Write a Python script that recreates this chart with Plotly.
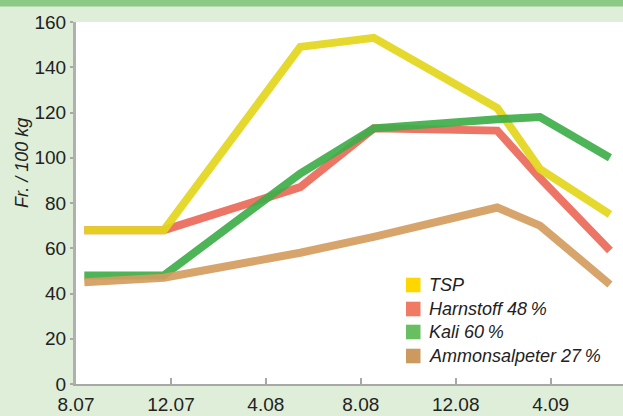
import plotly.graph_objects as go

# x positions in months after Aug 2007
months = [0.35, 3.7, 9.45, 12.55, 17.75, 19.55, 22.5]
tsp = [68, 68, 149, 153, 122, 95, 75]
harnstoff = [68, 68, 87, 113, 112, 91, 59]
kali = [48, 48, 93, 113, 117, 118, 100]
ammonsalpeter = [45, 47, 58, 65, 78, 70, 44]

series_names = ["TSP", "Harnstoff 48\u2009%", "Kali 60\u2009%", "Ammonsalpeter 27\u2009%"]
line_colors = ["#e4d61c", "#ec6a5a", "#3fae4a", "#d49e60"]
legend_colors = ["#ffd700", "#f07a64", "#68bf62", "#cc9a5e"]

tick_vals = [0, 4, 8, 12, 16, 20]
tick_text = ["8.07", "12.07", "4.08", "8.08", "12.08", "4.09"]
y_ticks = [0, 20, 40, 60, 80, 100, 120, 140, 160]

W, H = 623, 416
ML, MR, MT, MB = 76, 0, 22, 32
plot_w = W - ML - MR
plot_h = H - MT - MB


def px_x(px):
    return (px - ML) / plot_w


def px_y(py):
    return (H - MB - py) / plot_h


fig = go.Figure()

values = [tsp, harnstoff, kali, ammonsalpeter]
draw_order = [1, 0, 2, 3]
for i in draw_order:
    fig.add_trace(go.Scatter(
        x=months, y=values[i], mode="lines", name=series_names[i],
        line=dict(color=line_colors[i], width=8),
        opacity=0.92, showlegend=False, hoverinfo="skip"))

# legend built from swatches + text (layout positions)
legend_rows_y = [285, 309, 332, 356]
for i in range(4):
    cy = legend_rows_y[i]
    fig.add_shape(type="rect", xref="paper", yref="paper",
                  x0=px_x(406), x1=px_x(420.5),
                  y0=px_y(cy + 7.3), y1=px_y(cy - 7.3),
                  fillcolor=legend_colors[i], line_width=0, layer="above")
    fig.add_annotation(text=series_names[i], xref="paper", yref="paper",
                       x=px_x(427), y=px_y(cy), xanchor="left", yanchor="middle",
                       showarrow=False,
                       font=dict(family="Liberation Sans", size=18, color="#222222",
                                 style="italic"))

# top dark green band
fig.add_shape(type="rect", xref="paper", yref="paper",
              x0=px_x(0), x1=1.0,
              y0=px_y(6.5), y1=px_y(-2),
              fillcolor="#8cc985", line_width=0, layer="above")

fig.add_annotation(text="Fr. / 100 kg", xref="paper", yref="paper",
                   x=px_x(22), y=px_y(163),
                   xanchor="center", yanchor="middle", textangle=-90,
                   showarrow=False,
                   font=dict(family="Liberation Sans", size=18, color="#222222", style="italic"))

fig.update_layout(
    width=W, height=H,
    margin=dict(l=ML, r=MR, t=MT, b=MB),
    paper_bgcolor="#deeed8",
    plot_bgcolor="#ffffff",
    font=dict(family="Liberation Sans", size=19, color="#222222"),
    showlegend=False,
    xaxis=dict(range=[0, 23.05], tickvals=tick_vals, ticktext=tick_text,
               showgrid=False, zeroline=False, showline=True,
               linecolor="#a8a8a8", linewidth=2, ticks="inside", ticklen=6,
               tickcolor="#a8a8a8", tickwidth=2, tickfont=dict(size=19),
               ticklabelstandoff=2),
    yaxis=dict(range=[0, 160], tickvals=y_ticks, showgrid=False, zeroline=False,
               showline=True, linecolor="#b0b0b0", linewidth=3, ticks="outside",
               ticklen=3, tickcolor="#a8a8a8", tickwidth=2, tickfont=dict(size=19)),
)

fig.write_html("out.html", config={"displayModeBar": False},
               post_script="document.body.style.margin='0';document.body.style.padding='0';")
